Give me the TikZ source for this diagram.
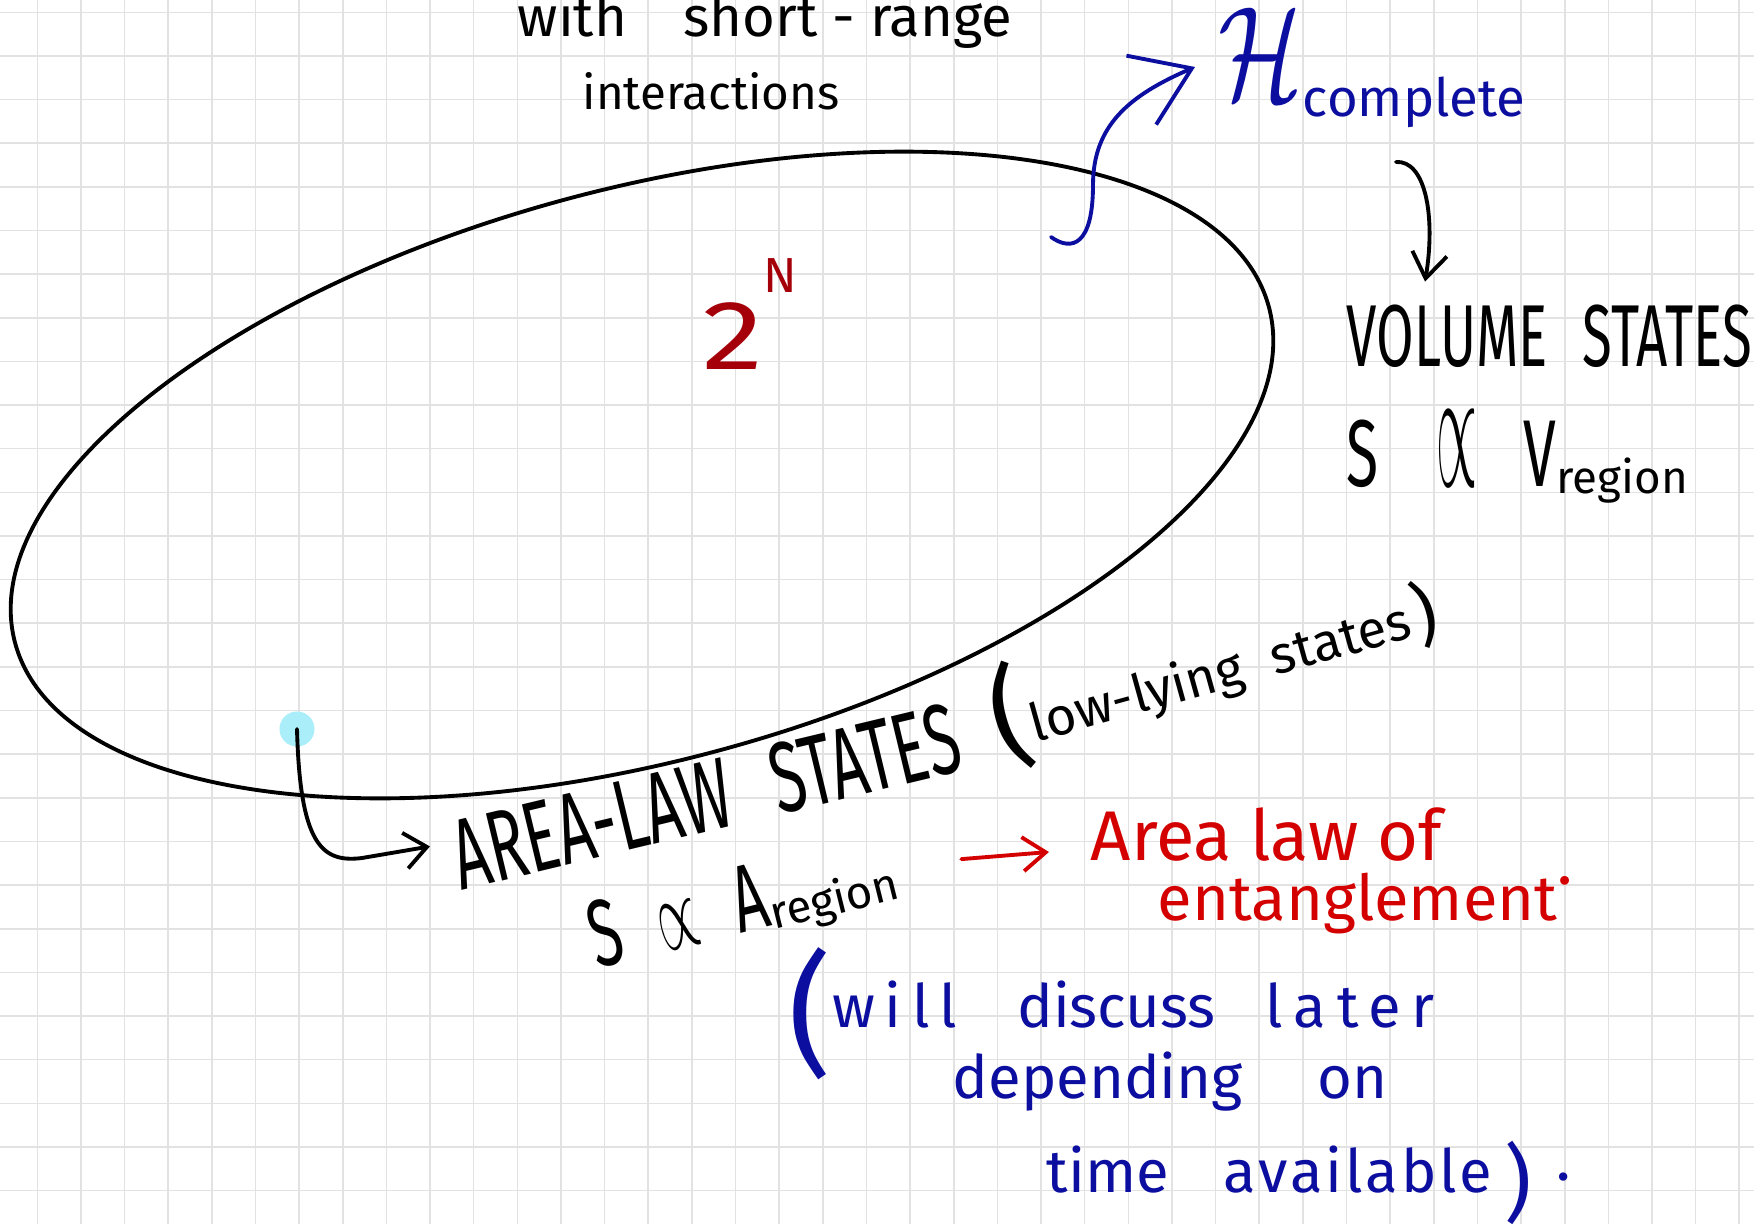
\documentclass[tikz,border=0pt]{standalone}
\usepackage{fontspec}
\setmainfont{Fira Sans}
\newfontfamily\capsfont[FakeStretch=0.62]{Fira Sans}
\newcommand{\regfont}{\normalfont\fontsize{13}{13}\selectfont}
\newcommand{\mathten}{\fontsize{10}{10}\selectfont}
\usepackage{graphicx}
\usepackage{xcolor}
\usetikzlibrary{arrows.meta,positioning}

\definecolor{inkblue}{RGB}{12,14,160}
\definecolor{inkred}{RGB}{212,0,0}
\definecolor{inkdarkred}{RGB}{165,0,10}
\definecolor{gridgray}{RGB}{226,226,226}
\definecolor{dotcyan}{RGB}{170,238,250}

\begin{document}
\begin{tikzpicture}[
    x=0.01cm, y=-0.01cm,
    ink/.style={line width=1.1pt, line cap=round},
    lbl/.style={inner sep=0pt, anchor=base west},
    gridline/.style={gridgray, line width=0.45pt}
]
\useasboundingbox (0,0) rectangle (1754,1224);
\fill[white] (0,0) rectangle (1754,1224);
% Squared paper
\foreach \k in {0,...,39}
  \draw[gridline] ({37.3+43.64*\k},0) -- ({37.3+43.64*\k},1224);
\foreach \k in {0,...,27}
  \draw[gridline] (0,{12.3+43.64*\k}) -- (1754,{12.3+43.64*\k});

% Hilbert space
\draw[ink, rotate around={15:(642,475)}] (642,475) ellipse [x radius=649, y radius=286];
\node[lbl, inkdarkred, font=\fontsize{28}{28}\selectfont] (twon) at (702,369)
  {\scalebox{1.25}[1]{2}\raisebox{0.76cm}{\fontsize{14}{14}\selectfont N}};

% Top text
\node[lbl, font=\fontsize{16}{16}\selectfont] (shortrange) at (517,36) {with\quad short - range};
\node[lbl, font=\fontsize{13.5}{13.5}\selectfont] (interactions) at (582,110) {interactions};
\node[lbl, inkblue, font=\fontsize{15}{15}\selectfont] (hcomplete) at (1218,100)
  {\scalebox{2.8}[3.8]{\mathten$\mathcal{H}$}\raisebox{-0.16cm}{complete}};

% Volume states
\node[lbl, font=\capsfont\fontsize{25}{25}\selectfont] (volume) at (1346,366)
  {VOLUME\hspace{0.35cm}STATES};
\node[lbl, font=\capsfont\fontsize{27}{27}\selectfont] (sv) at (1346,486)
  {S\hspace{0.58cm}\scalebox{1.5}[5]{\mathten$\propto$}\hspace{0.46cm}V\raisebox{-0.07cm}{\regfont region}};

% Area-law states
\node[circle, fill=dotcyan, minimum size=0.35cm, inner sep=0pt] (dot) at (297,729) {};
\node[lbl, rotate=13.5, font=\capsfont\fontsize{28.5}{28.5}\selectfont] (arealaw) at (461,891)
  {AREA-LAW\hspace{0.42cm}STATES};
\node[lbl, rotate=15.5, font=\fontsize{15}{15}\selectfont] (lowlying) at (1000,752)
  {\raisebox{-0.08cm}{\fontsize{32}{32}\selectfont(}low-lying\hspace{0.3cm}states\hspace{0.05cm}\raisebox{-0.05cm}{\fontsize{20}{20}\selectfont)}};
\node[lbl, rotate=14, font=\capsfont\fontsize{27}{27}\selectfont] (sa) at (597,969)
  {S\hspace{0.37cm}\scalebox{1.5}[3]{\mathten$\propto$}\hspace{0.37cm}A\raisebox{-0.05cm}{\regfont region}};
\node[lbl, inkred, font=\fontsize{20}{20}\selectfont] (areaof) at (1090,860) {Area law of};
\node[lbl, inkred, font=\fontsize{18}{18}\selectfont] (entangle) at (1157,920)
  {entanglement\raisebox{0.35cm}{.}};

% Remark
\node[lbl, inkblue, font=\fontsize{17}{17}\selectfont] (later) at (788,1027)
  {\raisebox{-0.33cm}{\fontsize{38}{38}\selectfont(}{\addfontfeature{LetterSpace=17}will}\hspace{0.6cm}discuss\hspace{0.5cm}{\addfontfeature{LetterSpace=18}later}};
\node[lbl, inkblue, font=\fontsize{17}{17}\selectfont] (depending) at (952,1098)
  {depending\hspace{0.75cm}on};
\node[lbl, inkblue, font=\fontsize{17}{17}\selectfont] (available) at (1046,1192)
  {time\hspace{0.55cm}{\addfontfeature{LetterSpace=5}available}\hspace{0.12cm}\raisebox{-0.2cm}{\fontsize{24}{24}\selectfont)}\hspace{0.25cm}\raisebox{0.12cm}{.}};

% Arrows
\coordinate (hookstart) at (1051,237);
\draw[ink, inkblue, -{Straight Barb[length=5.5mm, width=7.5mm]}] (hookstart)
  .. controls (1072,252) and (1093,245) .. (1093,185)
  .. controls (1093,125) and (1130,95) .. ([xshift=-0.23cm, yshift=0.33cm]hcomplete.base west);
\draw[ink, -{Straight Barb[length=2.5mm, width=3.5mm]}] ([xshift=0.24cm, yshift=-0.34cm]hcomplete.south)
  .. controls (1425,160) and (1436,215) .. ([xshift=0.79cm, yshift=0.22cm]volume.north west);
\draw[ink, -{Straight Barb[length=2.2mm, width=3.6mm]}] (dot.center)
  .. controls (300,845) and (322,863) .. (362,858) -- ([xshift=-0.23cm, yshift=0.11cm]arealaw.west);
\draw[ink, inkred, -{Straight Barb[length=2.3mm, width=3.4mm]}] ([xshift=0.6cm, yshift=0.34cm]sa.base east)
  -- ([xshift=-0.41cm, yshift=0.08cm]areaof.base west);
\end{tikzpicture}
\end{document}
